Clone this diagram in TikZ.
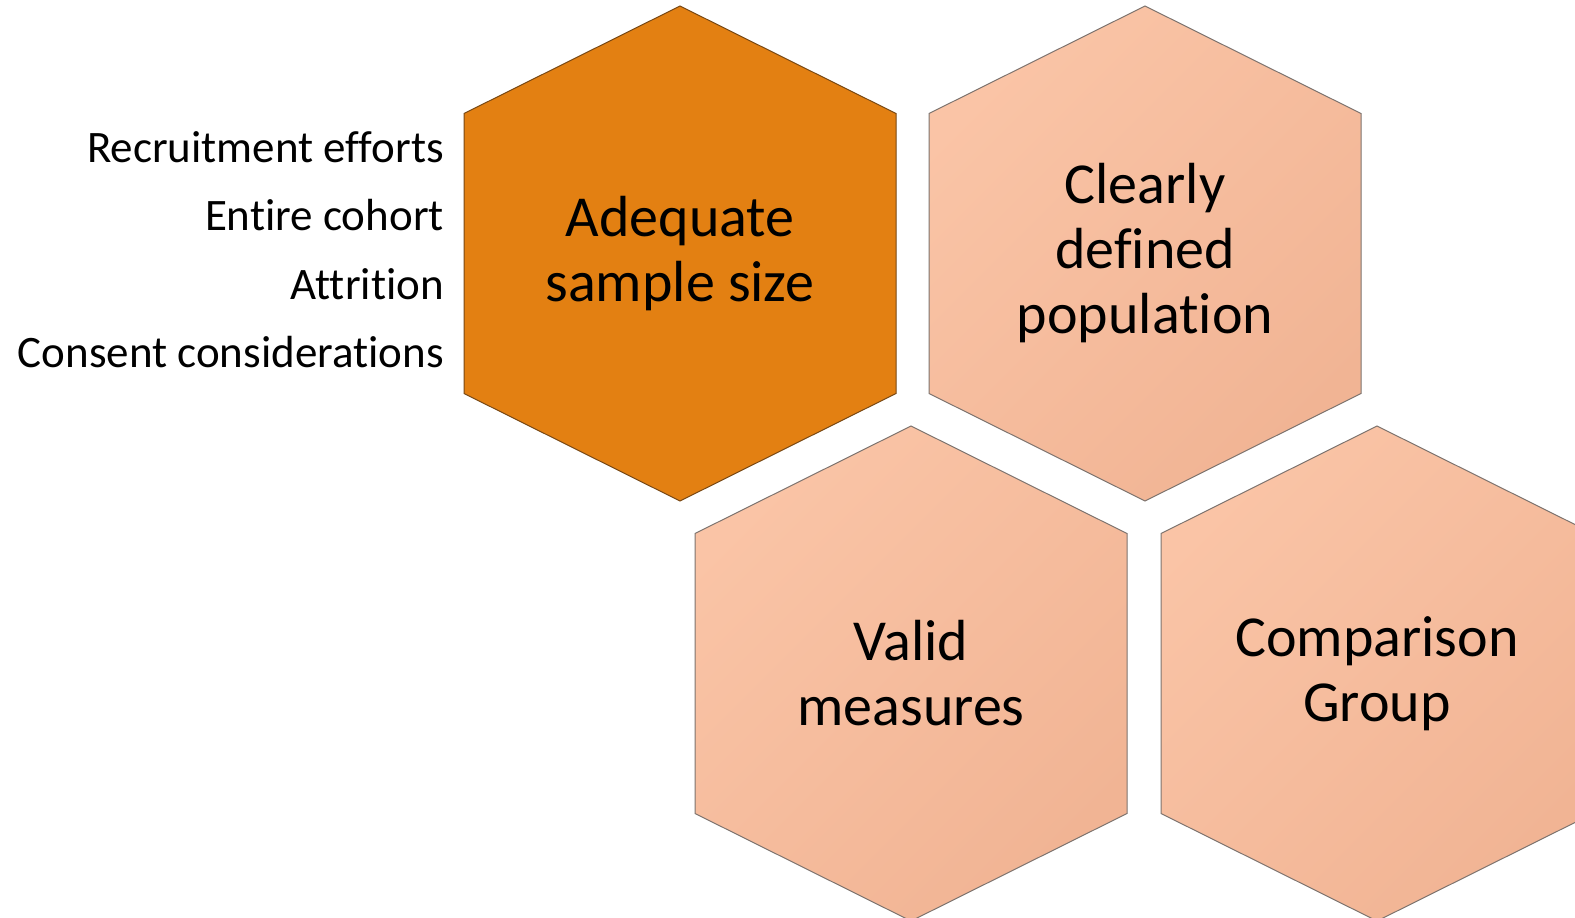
\documentclass[tikz,border=0pt]{standalone}
\usepackage{fontspec}
\setmainfont[Ligatures=NoCommon]{Carlito}
\definecolor{sizeorange}{RGB}{227,128,18}
\definecolor{sizeborder}{RGB}{120,72,20}
\definecolor{peachlight}{RGB}{250,196,166}
\definecolor{peachdark}{RGB}{241,180,148}
\definecolor{peachborder}{RGB}{125,115,110}
\begin{document}
\begin{tikzpicture}[x=1pt,y=-1pt]
  \tikzstyle{hexcell}=[insert path={++(0,-247.5) -- ++(216,107.5) -- ++(0,280)
                       -- ++(-216,107.5) -- ++(-216,-107.5) -- ++(0,-280) -- cycle}]
  \tikzstyle{mainhex}=[fill=sizeorange,draw=sizeborder,line width=1pt]
  \tikzstyle{sidehex}=[left color=peachlight,right color=peachdark,shading angle=45,
                       draw=peachborder,line width=1pt]
  \tikzstyle{hexlabel}=[align=center,font=\fontsize{58}{65}\selectfont]
  \tikzstyle{factor}=[anchor=base east,inner sep=0pt,font=\fontsize{45}{54}\selectfont]
  \clip (0,0) rectangle (1575,918);
  % hexagon centres
  \coordinate (sizec) at (680,253.5);
  \coordinate (popc) at (1145,253.5);
  \coordinate (measc) at (911,673.5);
  \coordinate (compc) at (1377,673.5);
  \path[mainhex] (sizec) [hexcell];
  \path[sidehex] (popc) [hexcell];
  \path[sidehex] (measc) [hexcell];
  \path[sidehex] (compc) [hexcell];
  \node[hexlabel] (size) at (sizec) {Adequate\\sample size};
  \node[hexlabel] (pop) at (popc) {Clearly\\defined\\population};
  \node[hexlabel] (meas) at (measc) {Valid\\measures};
  \node[hexlabel] (comp) at (compc) {Comparison\\Group};
  % factors beside the first hexagon
  \node[factor] (recruit) at (444,162) {Recruitment efforts};
  \node[factor] (cohort) at (444,230.5) {Entire cohort};
  \node[factor] (attrition) at (444,299) {Attrition};
  \node[factor] (consent) at (444,367.5) {Consent considerations};
\end{tikzpicture}
\end{document}
